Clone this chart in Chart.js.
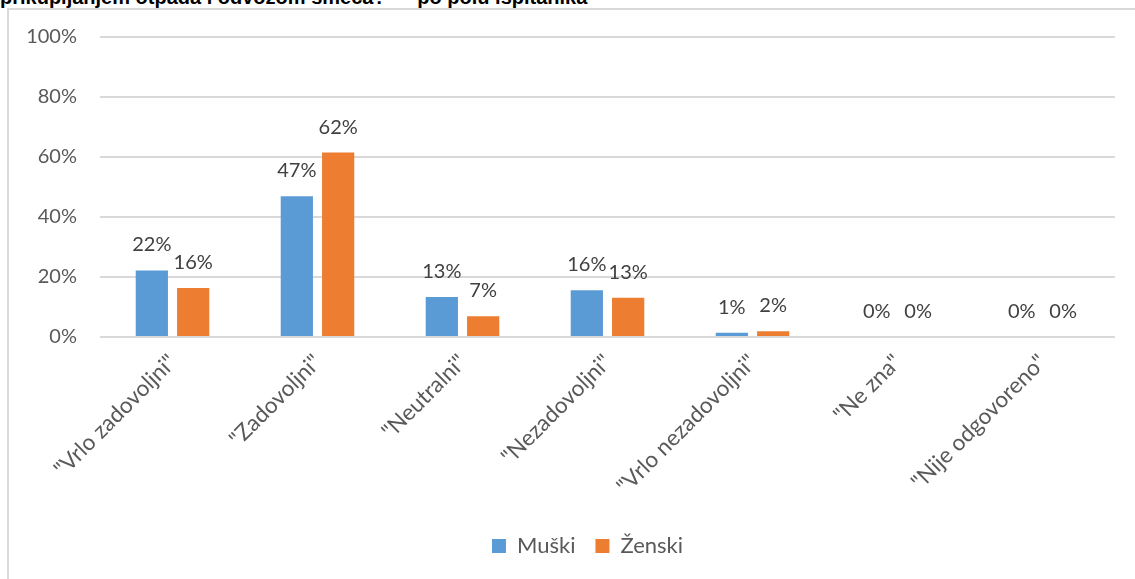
<!DOCTYPE html>
<html>
<head>
<meta charset="utf-8">
<script src="https://cdn.jsdelivr.net/npm/chart.js@4/dist/chart.umd.min.js"></script>
<style>
  body { margin: 0; background: #fff; overflow: hidden; }
  #wrap { position: relative; width: 1135px; height: 579px; overflow: hidden; }
  #frame { position: absolute; left: 7px; top: 8px; width: 1200px; height: 700px; border: 2px solid #d9d9d9; box-sizing: border-box; }
  #title { position: absolute; left: 0; top: -14px; font: bold 20px "Liberation Sans", Arial, sans-serif; color: #000; white-space: nowrap; }
  canvas { position: absolute; left: 0; top: 0; }
</style>
</head>
<body>
<div id="wrap">
  <div id="frame"></div>
  <div id="title">prikupljanjem otpada i odvozom smeća?" – po polu ispitanika</div>
  <canvas id="chart" width="1135" height="579"></canvas>
</div>
<script>
const categories = ['"Vrlo zadovoljni"', '"Zadovoljni"', '"Neutralni"', '"Nezadovoljni"', '"Vrlo nezadovoljni"', '"Ne zna"', '"Nije odgovoreno"'];
const muski = [22.2, 46.9, 13.3, 15.6, 1.4, 0, 0];
const zenski = [16.3, 61.5, 6.9, 13.1, 1.9, 0, 0];
const yTicks = [0, 20, 40, 60, 80, 100];

const FONT = 'Lato';

// oznake vrijednosti iznad stupaca
const valueLabels = {
    id: 'valueLabels',
    afterDatasetsDraw(chart) {
        const ctx = chart.ctx;
        ctx.save();
        ctx.font = '20px ' + FONT;
        ctx.fillStyle = '#404040';
        ctx.textAlign = 'center';
        ctx.textBaseline = 'alphabetic';
        chart.data.datasets.forEach((ds, i) => {
            chart.getDatasetMeta(i).data.forEach((bar, j) => {
                ctx.fillText(Math.round(ds.data[j]) + '%', bar.x, bar.y - 19);
            });
        });
        ctx.restore();
    }
};

// legenda centrirana na cijeli okvir grafikona
const shiftLegend = {
    id: 'shiftLegend',
    afterLayout(chart) {
        if (chart.legend) chart.legend.left = 60;
    }
};

new Chart(document.getElementById('chart'), {
    type: 'bar',
    data: {
        labels: categories,
        datasets: [
            { label: 'Muški', data: muski, backgroundColor: '#5B9BD5', categoryPercentage: 0.57, barPercentage: 0.78 },
            { label: 'Ženski', data: zenski, backgroundColor: '#ED7D31', categoryPercentage: 0.57, barPercentage: 0.78 }
        ]
    },
    options: {
        responsive: false,
        animation: false,
        layout: { padding: { left: 0, right: 20, top: 37, bottom: 12 } },
        plugins: {
            tooltip: { enabled: false },
            legend: {
                position: 'bottom',
                labels: {
                    boxWidth: 14, boxHeight: 14, padding: 20,
                    color: '#595959',
                    font: { family: FONT, size: 22 }
                }
            }
        },
        scales: {
            y: {
                min: 0, max: 100,
                afterBuildTicks: s => { s.ticks = yTicks.map(v => ({ value: v })); },
                afterFit: s => { s.width = 100; },
                border: { display: false },
                grid: { color: '#d9d9d9', lineWidth: 2, drawTicks: false },
                ticks: {
                    padding: 23, color: '#595959',
                    font: { family: FONT, size: 20 },
                    callback: v => v + '%'
                }
            },
            x: {
                afterFit: s => { s.height = 178; },
                border: { display: false },
                grid: { display: false, drawTicks: false },
                ticks: {
                    minRotation: 45, maxRotation: 45, padding: 12,
                    color: '#595959',
                    font: { family: FONT, size: 22.5 }
                }
            }
        }
    },
    plugins: [valueLabels, shiftLegend]
});
</script>
</body>
</html>
